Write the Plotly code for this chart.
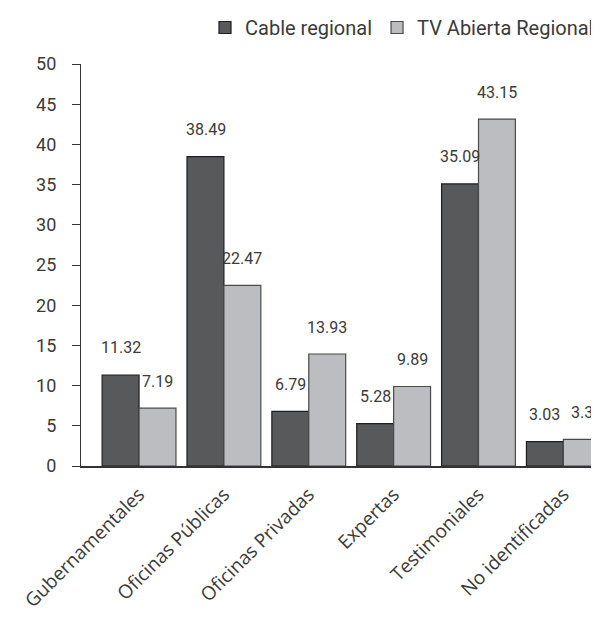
import plotly.graph_objects as go

categories = ["Gubernamentales", "Oficinas Públicas", "Oficinas Privadas",
              "Expertas", "Testimoniales", "No identificadas"]
cable_regional = [11.32, 38.49, 6.79, 5.28, 35.09, 3.03]
tv_abierta = [7.19, 22.47, 13.93, 9.89, 43.15, 3.3]
series_names = ["Cable regional", "TV Abierta Regional"]
y_ticks = [0, 5, 10, 15, 20, 25, 30, 35, 40, 45, 50]

FONT = "Roboto"
TXT = "#3a3a3a"

fig = go.Figure()
fig.add_trace(go.Bar(x=categories, y=cable_regional, name=series_names[0],
                     marker=dict(color="#58595b", line=dict(color="#1e1e1e", width=1.2))))
fig.add_trace(go.Bar(x=categories, y=tv_abierta, name=series_names[1],
                     marker=dict(color="#bcbdc0", line=dict(color="#4a4a4a", width=1.2))))

annotations = []
for vals, shift in ((cable_regional, -18.4), (tv_abierta, 18.4)):
    for c, v in zip(categories, vals):
        annotations.append(dict(x=c, y=v, text=str(v), showarrow=False,
                                xshift=shift, yshift=27, yanchor="middle",
                                font=dict(family=FONT, size=16, color=TXT)))

fig.update_layout(
    width=591, height=614,
    margin=dict(l=73, r=0, t=51, b=156),
    paper_bgcolor="white", plot_bgcolor="white",
    barmode="group", bargap=0.13, bargroupgap=0,
    font=dict(family=FONT, color=TXT),
    showlegend=True,
    legend=dict(orientation="h", x=1.0, xanchor="right", y=1.091, yanchor="middle",
                font=dict(family=FONT, size=20, color=TXT), traceorder="normal"),
    annotations=annotations,
    xaxis=dict(range=[-0.684, 5.42], showline=True, linecolor="#333", linewidth=1.5,
               ticks="", tickangle=-45, ticklabelstandoff=8, automargin=False,
               tickfont=dict(family="Open Sans", size=19, color=TXT),
               showgrid=False, zeroline=False),
    yaxis=dict(range=[0, 50], tickvals=y_ticks, showline=True, linecolor="#333", linewidth=1.2,
               ticks="outside", ticklen=8, tickcolor="#333", tickwidth=1.2,
               ticklabelstandoff=12, automargin=False,
               tickfont=dict(family=FONT, size=18, color=TXT),
               showgrid=False, zeroline=False),
)

fig.write_html("out.html")
